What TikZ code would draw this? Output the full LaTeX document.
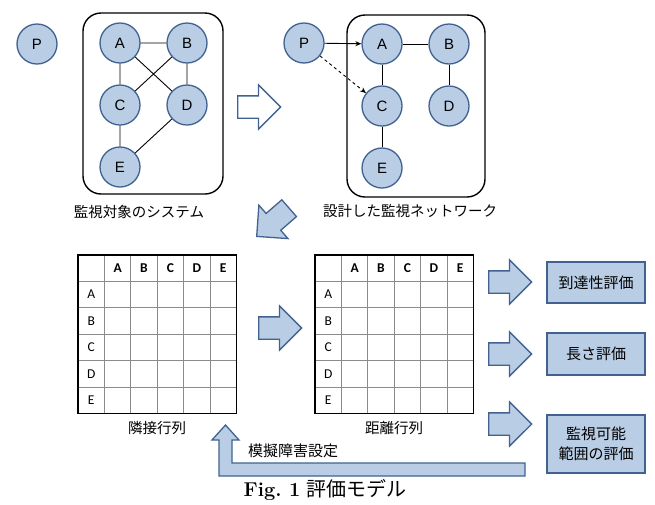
\documentclass[tikz,border=0pt]{standalone}
\usepackage{fontspec}
\newfontfamily\jpfont{Noto Sans CJK JP}
\newfontfamily\arialfont{Liberation Sans}
\newfontfamily\califont{Carlito}
\usetikzlibrary{shapes.arrows,arrows.meta}
\definecolor{boxblue}{RGB}{185,205,229}
\definecolor{edgeblue}{RGB}{65,98,145}

\tikzset{
    vtx/.style={circle, draw=edgeblue, fill=boxblue, line width=1.3pt, minimum size=40pt, inner sep=0pt, font=\arialfont\fontsize{15}{15}\selectfont},
    link/.style={line width=0.9pt},
    group/.style={draw, line width=1.4pt, rounded corners=18pt},
    fatarrow/.style={single arrow, draw=edgeblue, fill=boxblue, line width=1.3pt, minimum height=43pt, inner xsep=0pt, inner ysep=10.5pt, single arrow head extend=11pt},
    evalbox/.style={draw=edgeblue, fill=boxblue, line width=1.3pt, minimum width=98pt, align=center, font=\jpfont\fontsize{15}{20}\selectfont},
    caption/.style={font=\jpfont\fontsize{14.5}{17}\selectfont},
    cellline/.style={black!45, line width=0.9pt},
    celltext/.style={font=\califont\fontsize{13.5}{13.5}\selectfont},
}

\begin{document}
\begin{tikzpicture}[x=1pt, y=-1pt]
    \useasboundingbox (0,0) rectangle (655,504);

    % Monitored system
    \node[vtx] (p1) at (37,44) {P};
    \draw[group] (83,13) rectangle (223,194);
    \node[vtx] (a1) at (120,43) {A};
    \node[vtx] (b1) at (187,43) {B};
    \node[vtx] (c1) at (120,105) {C};
    \node[vtx] (d1) at (187,105) {D};
    \node[vtx] (e1) at (120,167) {E};
    \draw[link] (a1) -- (b1) (a1) -- (c1) (a1) -- (d1) (b1) -- (c1)
        (b1) -- (d1) (c1) -- (e1) (d1) -- (e1);
    \node[caption] (sys) at (139,212) {監視対象のシステム};

    \node[fatarrow, fill=white, anchor=tail] (toNet) at (237,107) {};

    % Designed monitoring network
    \node[vtx] (p2) at (304,43) {P};
    \draw[group] (347,15) rectangle (485,197);
    \node[vtx] (a2) at (382,44) {A};
    \node[vtx] (b2) at (449,44) {B};
    \node[vtx] (c2) at (382,106) {C};
    \node[vtx] (d2) at (449,106) {D};
    \node[vtx] (e2) at (382,168) {E};
    \draw[link] (a2) -- (b2) (a2) -- (c2) (b2) -- (d2) (c2) -- (e2);
    \draw[link, -{Stealth[length=6pt, width=5pt]}] (p2) -- (a2);
    \draw[link, dashed, -{Stealth[length=6pt, width=5pt]}] (p2) -- (c2);
    \node[caption] (net) at (410,211) {設計した監視ネットワーク};

    \node[fatarrow, rotate=221, anchor=tip] (toMat) at (256,237) {};

    % Matrices
    \foreach \tx/\nm in {78/adj, 315/dist} {
        \foreach \i in {1,...,5} {
            \draw[cellline] ({\tx+\i*26.4},255) -- ({\tx+\i*26.4},413.4);
            \draw[cellline] (\tx,{255+\i*26.4}) -- ({\tx+158.4},{255+\i*26.4});
        }
        \draw[line width=1.4pt] (\tx,255) rectangle ({\tx+158.4},413.4);
        \foreach \l [count=\i] in {A,B,C,D,E} {
            \node[celltext, font=\califont\bfseries\fontsize{13.5}{13.5}\selectfont] (\nm-c\i) at ({\tx+(\i+0.5)*26.4},268.2) {\l};
            \node[celltext] (\nm-r\i) at ({\tx+13.2},{255+(\i+0.5)*26.4}) {\l};
        }
    }
    \node[caption] (adjcap) at (157,428) {隣接行列};
    \node[caption] (distcap) at (394,428) {距離行列};

    \node[fatarrow, anchor=tail] (toDist) at (258,328) {};

    % Evaluations
    \node[fatarrow, anchor=tail] (ar1) at (488,282) {};
    \node[fatarrow, anchor=tail] (ar2) at (488,354) {};
    \node[fatarrow, anchor=tail] (ar3) at (488,424) {};
    \node[evalbox, minimum height=41pt] (reach) at (596,282.5) {到達性評価};
    \node[evalbox, minimum height=42pt] (len) at (596,354) {長さ評価};
    \node[evalbox, minimum height=58pt] (cover) at (596,444) {監視可能\\範囲の評価};

    % Fault feedback
    \draw[edgeblue, fill=boxblue, line width=1.3pt] (525,463) -- (232,463) -- (232,440)
        -- (239,440) -- (225.5,425) -- (212,440) -- (219,440) -- (219,476) -- (525,476) -- cycle;
    \node[caption, font=\jpfont\fontsize{15}{17}\selectfont] (fault) at (293,451) {模擬障害設定};

    \node[font=\fontsize{20}{22}\selectfont] (fig) at (325,490) {\textbf{Fig.\ 1} {\jpfont 評価モデル}};
\end{tikzpicture}
\end{document}
